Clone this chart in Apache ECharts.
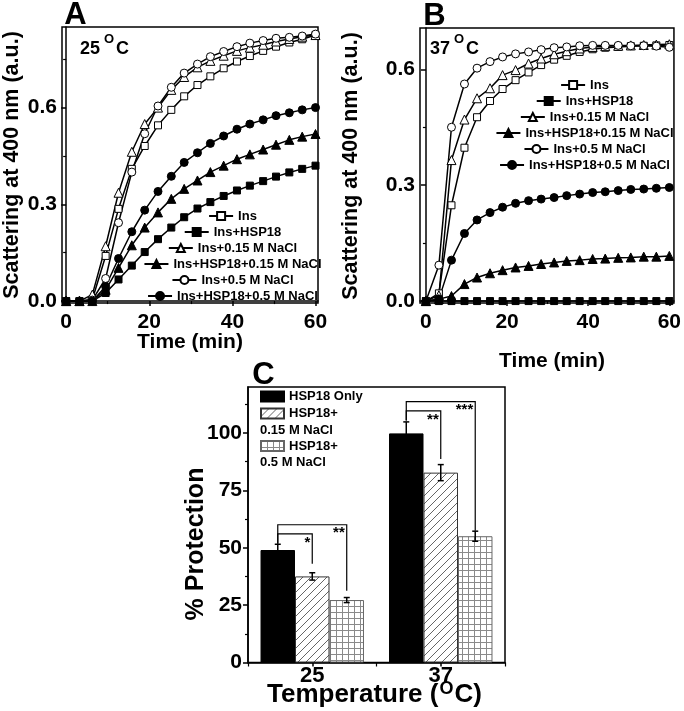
<!DOCTYPE html>
<html><head><meta charset="utf-8">
<script src="https://cdn.jsdelivr.net/npm/echarts@6/dist/echarts.min.js"></script>
<style>html,body{margin:0;padding:0;background:#fff}#c{width:684px;height:711px}</style>
</head><body><div id="c"></div>
<script>
// ---------- data ----------
const times = [0, 3.2, 6.3, 9.5, 12.6, 15.8, 18.9, 22.1, 25.3, 28.4, 31.6, 34.7, 37.9, 41.1, 44.2, 47.4, 50.5, 53.7, 56.8, 60];
const seriesNames = ['Ins', 'Ins+HSP18', 'Ins+0.15 M NaCl', 'Ins+HSP18+0.15 M NaCl', 'Ins+0.5 M NaCl', 'Ins+HSP18+0.5 M NaCl'];
// Panel A (25 °C)
const aIns     = [0, 0, 0.005, 0.14, 0.286, 0.41, 0.481, 0.545, 0.593, 0.635, 0.67, 0.697, 0.722, 0.743, 0.76, 0.776, 0.789, 0.802, 0.812, 0.825];
const aHsp     = [0, 0, 0, 0.025, 0.067, 0.11, 0.152, 0.192, 0.228, 0.26, 0.287, 0.307, 0.326, 0.343, 0.358, 0.372, 0.386, 0.399, 0.41, 0.42];
const aIns015  = [0, 0, 0.02, 0.17, 0.336, 0.463, 0.549, 0.60, 0.655, 0.695, 0.725, 0.745, 0.761, 0.776, 0.786, 0.795, 0.805, 0.813, 0.82, 0.825];
const aHsp015  = [0, 0, 0, 0.035, 0.103, 0.173, 0.228, 0.275, 0.317, 0.348, 0.374, 0.40, 0.42, 0.44, 0.455, 0.47, 0.485, 0.50, 0.51, 0.518];
const aIns05   = [0, 0, 0.003, 0.07, 0.243, 0.40, 0.519, 0.605, 0.663, 0.707, 0.735, 0.758, 0.774, 0.789, 0.80, 0.808, 0.815, 0.818, 0.822, 0.828];
const aHsp05   = [0, 0, 0, 0.045, 0.132, 0.215, 0.282, 0.34, 0.387, 0.43, 0.46, 0.489, 0.512, 0.533, 0.549, 0.562, 0.575, 0.584, 0.593, 0.60];
// Panel B (37 °C)
const bIns     = [0, 0.02, 0.248, 0.397, 0.476, 0.518, 0.549, 0.572, 0.592, 0.611, 0.625, 0.635, 0.645, 0.652, 0.656, 0.658, 0.66, 0.661, 0.662, 0.663];
const bHsp     = [0, 0, 0, 0, 0, 0, 0, 0, 0, 0, 0, 0, 0, 0, 0, 0, 0, 0, 0, 0];
const bIns015  = [0, 0.015, 0.365, 0.47, 0.525, 0.551, 0.585, 0.598, 0.615, 0.628, 0.639, 0.647, 0.654, 0.658, 0.66, 0.661, 0.662, 0.663, 0.664, 0.665];
const bHsp015  = [0, 0.005, 0.013, 0.044, 0.061, 0.072, 0.080, 0.087, 0.091, 0.096, 0.100, 0.104, 0.106, 0.109, 0.110, 0.112, 0.113, 0.115, 0.115, 0.117];
const bIns05   = [0, 0.093, 0.45, 0.562, 0.603, 0.62, 0.632, 0.64, 0.645, 0.651, 0.656, 0.658, 0.661, 0.662, 0.662, 0.662, 0.661, 0.661, 0.66, 0.657];
const bHsp05   = [0, 0.005, 0.106, 0.175, 0.210, 0.229, 0.243, 0.253, 0.260, 0.264, 0.268, 0.273, 0.277, 0.281, 0.283, 0.286, 0.289, 0.290, 0.292, 0.294];
const xTicks = [0, 20, 40, 60];
const xMinorTicks = [10, 30, 50];
const yTicksAB = [0, 0.3, 0.6];
const yMinorA = [0.15, 0.45, 0.75];
const yMinorB = [0.15, 0.45];
// Panel C
const temps = ['25', '37'];
const barNames = ['HSP18 Only', 'HSP18+', 'HSP18+ '];
const hspOnly = [49, 99.8];
const hspOnlyErr = [2.5, 5];
const hsp015 = [37.5, 82.7];
const hsp015Err = [1.6, 3.5];
const hsp05 = [27.2, 55];
const hsp05Err = [1.1, 2.2];
const yTicksC = [0, 25, 50, 75, 100];
const yMinorC = [12.5, 37.5, 62.5, 87.5, 112.5];
const bracketCat   = [0, 0, 1, 1];
const bracketFrom  = [0, 0, 0, 0];
const bracketTo    = [1, 2, 1, 2];
const bracketStart = [51.7, 51.7, 105.4, 105.4];
const bracketTop   = [56, 60, 109.6, 113.6];
const bracketEnd   = [43, 31.3, 88.6, 57.4];
const bracketLabel = ['*', '**', '**', '***'];

// ---------- helpers ----------
const FF = '"Liberation Sans", Arial, sans-serif';
const chart = echarts.init(document.getElementById('c'), null, {renderer: 'canvas'});
const mctx = document.createElement('canvas').getContext('2d');
function textW(t, font) { mctx.font = font; return mctx.measureText(t).width; }

function hatch() {
  const c = document.createElement('canvas'); c.width = 8; c.height = 8;
  const g = c.getContext('2d');
  g.fillStyle = '#fff'; g.fillRect(0, 0, 8, 8);
  g.strokeStyle = '#555'; g.lineWidth = 0.9;
  g.beginPath(); g.moveTo(0, 8); g.lineTo(8, 0); g.moveTo(-1, 1); g.lineTo(1, -1); g.moveTo(7, 9); g.lineTo(9, 7); g.stroke();
  return c;
}
function gridPat() {
  const c = document.createElement('canvas'); c.width = 6; c.height = 6;
  const g = c.getContext('2d');
  g.fillStyle = '#fff'; g.fillRect(0, 0, 6, 6);
  g.strokeStyle = '#8a8a8a'; g.lineWidth = 1;
  g.beginPath(); g.moveTo(0.5, 0); g.lineTo(0.5, 6); g.moveTo(0, 0.5); g.lineTo(6, 0.5); g.stroke();
  return c;
}

const styles = [
  {symbol: 'rect', size: 7, fill: '#fff'},
  {symbol: 'rect', size: 7, fill: '#000'},
  {symbol: 'triangle', size: 9, fill: '#fff'},
  {symbol: 'triangle', size: 9, fill: '#000'},
  {symbol: 'circle', size: 8, fill: '#fff'},
  {symbol: 'circle', size: 8, fill: '#000'}
];
const aData = [aIns, aHsp, aIns015, aHsp015, aIns05, aHsp05];
const bData = [bIns, bHsp, bIns015, bHsp015, bIns05, bHsp05];

function valAxisX(grid, min, max, major, minor) {
  return [
    {type: 'value', gridIndex: grid, position: 'bottom', min: min, max: max,
     axisLine: {show: true, lineStyle: {color: '#000', width: 1.5}},
     axisTick: {show: true, inside: false, length: 5, lineStyle: {color: '#000', width: 1.5}, customValues: major},
     axisLabel: {show: true, customValues: major, margin: 9, color: '#000', fontFamily: FF, fontWeight: 'bold', fontSize: 21, formatter: v => String(Math.round(v))},
     splitLine: {show: false}},
    {type: 'value', gridIndex: grid, position: 'bottom', min: min, max: max,
     axisLine: {show: false},
     axisTick: {show: true, inside: false, length: 3, lineStyle: {color: '#000', width: 1.2}, customValues: minor},
     axisLabel: {show: false}, splitLine: {show: false}}
  ];
}
function valAxisY(grid, min, max, major, minor, fmt, margin) {
  return [
    {type: 'value', gridIndex: grid, position: 'left', min: min, max: max,
     axisLine: {show: true, lineStyle: {color: '#000', width: 1.5}},
     axisTick: {show: true, inside: false, length: 5, lineStyle: {color: '#000', width: 1.5}, customValues: major},
     axisLabel: {show: true, customValues: major, margin: margin, color: '#000', fontFamily: FF, fontWeight: 'bold', fontSize: 21, formatter: fmt},
     splitLine: {show: false}},
    {type: 'value', gridIndex: grid, position: 'left', min: min, max: max,
     axisLine: {show: false},
     axisTick: {show: true, inside: false, length: 3, lineStyle: {color: '#000', width: 1.2}, customValues: minor},
     axisLabel: {show: false}, splitLine: {show: false}}
  ];
}

const series = [];
function addLines(dataSets, xi, yi) {
  dataSets.forEach((arr, k) => {
    series.push({
      type: 'line', name: seriesNames[k], xAxisIndex: xi, yAxisIndex: yi,
      data: times.map((t, i) => [t, arr[i]]),
      symbol: styles[k].symbol, symbolSize: styles[k].size, showAllSymbol: true,
      lineStyle: {color: '#000', width: 1.5},
      itemStyle: {color: styles[k].fill, borderColor: '#000', borderWidth: 1},
      emphasis: {disabled: true}, animation: false, z: 3
    });
  });
}
addLines(aData, 0, 0);
addLines(bData, 2, 2);

const hatchFill = {image: hatch(), repeat: 'repeat'};
const gridFill = {image: gridPat(), repeat: 'repeat'};
const barVals = [hspOnly, hsp015, hsp05];
const barErrs = [hspOnlyErr, hsp015Err, hsp05Err];
const barStyles = [
  {color: '#000', borderColor: '#000', borderWidth: 1},
  {color: hatchFill, borderColor: '#333', borderWidth: 1},
  {color: gridFill, borderColor: '#666', borderWidth: 1}
];
const GAP = 0.195;
barVals.forEach((vals, k) => {
  series.push({type: 'bar', name: barNames[k], xAxisIndex: 4, yAxisIndex: 4, data: vals,
    barGap: '0%', barCategoryGap: (GAP * 100) + '%', itemStyle: barStyles[k],
    emphasis: {disabled: true}, animation: false, z: 2});
});
// error bars
const errData = [];
barVals.forEach((vals, k) => vals.forEach((v, c) => errData.push([c, k, v, barErrs[k][c]])));
series.push({
  type: 'custom', xAxisIndex: 4, yAxisIndex: 4, data: errData, z: 5, animation: false, silent: true,
  renderItem: function (params, api) {
    const c = api.value(0), k = api.value(1), v = api.value(2), e = api.value(3);
    const band = api.size([1, 0])[0];
    const bw = band * (1 - GAP) / 3;
    const x = api.coord([c, v])[0] + (k - 1) * bw;
    const yt = api.coord([c, v + e])[1], yb = api.coord([c, v - e])[1];
    const st = {stroke: '#000', lineWidth: 1.5};
    return {type: 'group', children: [
      {type: 'line', shape: {x1: x, y1: yt, x2: x, y2: yb}, style: st},
      {type: 'line', shape: {x1: x - 3, y1: yt, x2: x + 3, y2: yt}, style: st},
      {type: 'line', shape: {x1: x - 3, y1: yb, x2: x + 3, y2: yb}, style: st}
    ]};
  }
});
// significance brackets
const brData = bracketCat.map((c, i) => [c, bracketFrom[i], bracketTo[i], bracketStart[i], bracketTop[i], bracketEnd[i]]);
series.push({
  type: 'custom', xAxisIndex: 4, yAxisIndex: 4, data: brData, z: 6, animation: false, silent: true,
  renderItem: function (params, api) {
    const c = api.value(0), f = api.value(1), t = api.value(2);
    const band = api.size([1, 0])[0];
    const bw = band * (1 - GAP) / 3;
    const cx = api.coord([c, 0])[0];
    const x1 = cx + (f - 1) * bw, x2 = cx + (t - 1) * bw;
    const y0 = api.coord([c, api.value(3)])[1];
    const y1 = api.coord([c, api.value(4)])[1];
    const y2 = api.coord([c, api.value(5)])[1];
    return {type: 'group', children: [
      {type: 'polyline', shape: {points: [[x1, y0], [x1, y1], [x2, y1], [x2, y2]]}, style: {stroke: '#000', lineWidth: 1.2, fill: null}},
      {type: 'text', style: {text: bracketLabel[params.dataIndex], x: x2 - 2, y: y1 + 1, align: 'right', verticalAlign: 'top',
        font: 'bold 15px ' + FF, fill: '#000'}}
    ]};
  }
});

// ---------- legends ----------
const legends = [];
const LF = 'bold 13px ' + FF;
function addLegendRows(cx, y0) {
  seriesNames.forEach((n, k) => {
    const w = 24 + 5 + textW(n, LF);
    legends.push({data: [n], left: cx - w / 2, top: y0 + 16 * k - 7, padding: 0, itemWidth: 24, itemHeight: 10,
      selectedMode: false, textStyle: {fontFamily: FF, fontWeight: 'bold', fontSize: 13, color: '#000', lineHeight: 14}});
  });
}
addLegendRows(232, 216);
addLegendRows(584, 85);
const cLegY = [396.5, 413.5, 446];
barNames.forEach((n, k) => {
  legends.push({data: [{name: n, icon: 'rect'}], left: 260, top: cLegY[k] - 7, padding: 0, itemWidth: 23, itemHeight: 10,
    selectedMode: false, textStyle: {fontFamily: FF, fontWeight: 'bold', fontSize: 13, color: '#000', lineHeight: 14}});
});

// ---------- text graphics ----------
function txt(t, x, y, size, opts) {
  opts = opts || {};
  return {type: 'text', x: x, y: y, rotation: opts.rot || 0, silent: true, z: 10,
    style: {text: t, font: 'bold ' + size + 'px ' + FF, fill: '#000', align: opts.align || 'center', verticalAlign: opts.va || 'middle'}};
}
const tempFont = 'bold 26px ' + FF;
const tempW = textW('Temperature (', tempFont);
const graphics = [
  txt('A', 75.5, 15, 31), txt('B', 434.5, 16, 31), txt('C', 263.5, 375, 31),
  txt('Scattering at 400 nm (a.u.)', 12, 165, 21.5, {rot: Math.PI / 2}),
  txt('Scattering at 400 nm (a.u.)', 351, 166, 21.5, {rot: Math.PI / 2}),
  txt('Time (min)', 190, 342, 21), txt('Time (min)', 552, 361, 21),
  txt('25 ', 80, 49, 18, {align: 'left'}), txt('O', 104, 39, 13, {align: 'left'}), txt('C', 116, 49, 18, {align: 'left'}),
  txt('37 ', 430, 49, 18, {align: 'left'}), txt('O', 454, 39, 13, {align: 'left'}), txt('C', 466, 49, 18, {align: 'left'}),
  txt('% Protection', 196, 544, 25, {rot: Math.PI / 2}),
  txt('Temperature (', 267, 695, 26, {align: 'left'}),
  txt('O', 267 + tempW + 1, 689, 18, {align: 'left'}),
  txt('C)', 267 + tempW + 16, 695, 26, {align: 'left'}),
  txt('0.15 M NaCl', 260, 430, 13, {align: 'left'}),
  txt('0.5 M NaCl', 260, 462, 13, {align: 'left'})
];

const option = {
  backgroundColor: '#fff',
  animation: false,
  grid: [
    {left: 62, top: 27, width: 256, height: 276, show: true, borderColor: '#000', borderWidth: 1.5, backgroundColor: 'transparent'},
    {left: 420, top: 28, width: 258, height: 275, show: true, borderColor: '#000', borderWidth: 1.5, backgroundColor: 'transparent'},
    {left: 248, top: 387, width: 257, height: 275.5, show: true, borderColor: '#000', borderWidth: 1.5, backgroundColor: 'transparent'}
  ],
  xAxis: [].concat(
    valAxisX(0, -1, 60.6, xTicks, xMinorTicks),
    valAxisX(1, -1.46, 61.14, xTicks, xMinorTicks),
    [
      {type: 'category', gridIndex: 2, position: 'bottom', data: temps,
       axisLine: {show: true, lineStyle: {color: '#000', width: 1.5}},
       axisTick: {show: true, alignWithLabel: true, length: 4, lineStyle: {color: '#000', width: 1.5}},
       axisLabel: {margin: 2, color: '#000', fontFamily: FF, fontWeight: 'bold', fontSize: 22}},
      {type: 'category', gridIndex: 2, position: 'bottom', data: temps,
       axisLine: {show: false},
       axisTick: {show: true, length: 4, lineStyle: {color: '#000', width: 1.2}},
       axisLabel: {show: false}}
    ]
  ),
  yAxis: [].concat(
    valAxisY(0, -0.006, 0.85, yTicksAB, yMinorA, v => v.toFixed(1), 5),
    valAxisY(1, -0.005, 0.707, yTicksAB, yMinorB, v => v.toFixed(1), 5),
    valAxisY(2, 0, 120, yTicksC, yMinorC, v => String(v), 6)
  ),
  legend: legends,
  series: series,
  graphic: graphics
};
chart.setOption(option);
</script></body></html>
